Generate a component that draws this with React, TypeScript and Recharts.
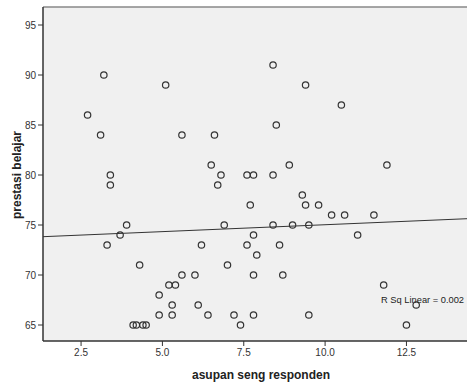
import { CartesianGrid, ReferenceDot, ReferenceLine, Scatter, ScatterChart, XAxis, YAxis } from 'recharts'

// asupan seng (x) and prestasi belajar (y), one entry per respondent
const asupan = [
  8.4, 3.2, 5.1, 9.4, 10.5, 2.7, 8.5, 3.1, 5.6, 6.6, 6.5, 8.9, 11.9, 3.4, 6.8, 7.6, 7.8, 8.4, 3.4, 6.7,
  9.3, 7.7, 9.4, 9.8, 10.2, 10.6, 11.5, 3.9, 6.9, 8.4, 9.0, 9.5, 3.7, 7.8, 11.0, 3.3, 6.2, 7.6, 8.6,
  7.9, 4.3, 7.0, 5.6, 6.0, 7.8, 8.7, 5.2, 5.4, 11.8, 4.9, 5.3, 6.1, 12.8, 4.9, 5.3, 6.4, 7.2, 7.8, 9.5,
  4.1, 4.2, 4.4, 4.5, 7.4, 12.5,
]
const prestasi = [
  91, 90, 89, 89, 87, 86, 85, 84, 84, 84, 81, 81, 81, 80, 80, 80, 80, 80, 79, 79,
  78, 77, 77, 77, 76, 76, 76, 75, 75, 75, 75, 75, 74, 74, 74, 73, 73, 73, 73,
  72, 71, 71, 70, 70, 70, 70, 69, 69, 69, 68, 67, 67, 67, 66, 66, 66, 66, 66, 66,
  65, 65, 65, 65, 65, 65,
]
// fit line as drawn in the picture (ends of the linear fit)
const fitAsupan = [1.33, 14.73]
const fitPrestasi = [73.83, 75.68]

const xTicks = [2.5, 5.0, 7.5, 10.0, 12.5]
const yTicks = [65, 70, 75, 80, 85, 90, 95]
const rSqText = 'R Sq Linear = 0.002'

const X_DOMAIN: [number, number] = [1.33, 14.73]
const Y_DOMAIN: [number, number] = [63.4, 96.8]
const FONT = '"Liberation Sans", Arial, sans-serif'

const points = asupan.map((x, i) => ({ x, y: prestasi[i] }))
const fitLine = fitAsupan.map((x, i) => ({ x, y: fitPrestasi[i] }))

const OpenCircle = (props: { cx?: number; cy?: number }) => {
  const { cx = 0, cy = 0 } = props
  return <circle cx={cx} cy={cy} r={3.2} fill="none" stroke="#333" strokeWidth={1.2} />
}

const YLabel = () => (
  <text
    x={17}
    y={175}
    transform="rotate(-90, 17, 175)"
    textAnchor="middle"
    dominantBaseline="central"
    fontFamily={FONT}
    fontSize={12}
    fontWeight="bold"
    fill="#222"
  >
    prestasi belajar
  </text>
)

export default function App() {
  return (
    <div style={{ position: 'absolute', left: 0, top: 0, width: 467, height: 385, overflow: 'hidden', background: '#fff' }}>
      <ScatterChart width={479} height={385} margin={{ top: 7, right: 0, bottom: 0, left: 0 }}>
        <CartesianGrid horizontal={false} vertical={false} fill="#f0f0f0" />
        <XAxis
          type="number"
          dataKey="x"
          domain={X_DOMAIN}
          ticks={xTicks}
          allowDataOverflow
          height={44}
          tickSize={5}
          tickMargin={3}
          tickFormatter={(v: number) => v.toFixed(1)}
          tick={{ fill: '#333', fontSize: 10, fontFamily: FONT }}
          tickLine={{ stroke: '#333' }}
          axisLine={{ stroke: '#333', strokeWidth: 1.5 }}
          label={{
            value: 'asupan seng responden',
            position: 'insideBottom',
            offset: 6,
            fill: '#222',
            fontSize: 12,
            fontWeight: 'bold',
            fontFamily: FONT,
          }}
        />
        <YAxis
          type="number"
          dataKey="y"
          domain={Y_DOMAIN}
          ticks={yTicks}
          allowDataOverflow
          width={43}
          tickSize={5}
          tick={{ fill: '#333', fontSize: 10, fontFamily: FONT }}
          tickLine={{ stroke: '#333' }}
          axisLine={{ stroke: '#333', strokeWidth: 1.5 }}
          label={<YLabel />}
        />
        <ReferenceLine y={Y_DOMAIN[1]} stroke="#888" strokeWidth={1.5} />
        <ReferenceLine
          segment={[fitLine[0], fitLine[1]]}
          stroke="#333"
          strokeWidth={1}
          ifOverflow="hidden"
        />
        <Scatter data={points} shape={<OpenCircle />} isAnimationActive={false} />
        <ReferenceDot
          x={11.72}
          y={67.5}
          r={0}
          fill="none"
          stroke="none"
          label={{ value: rSqText, position: 'right', offset: 0, fill: '#222', fontSize: 9.3, fontFamily: FONT }}
        />
      </ScatterChart>
    </div>
  )
}
